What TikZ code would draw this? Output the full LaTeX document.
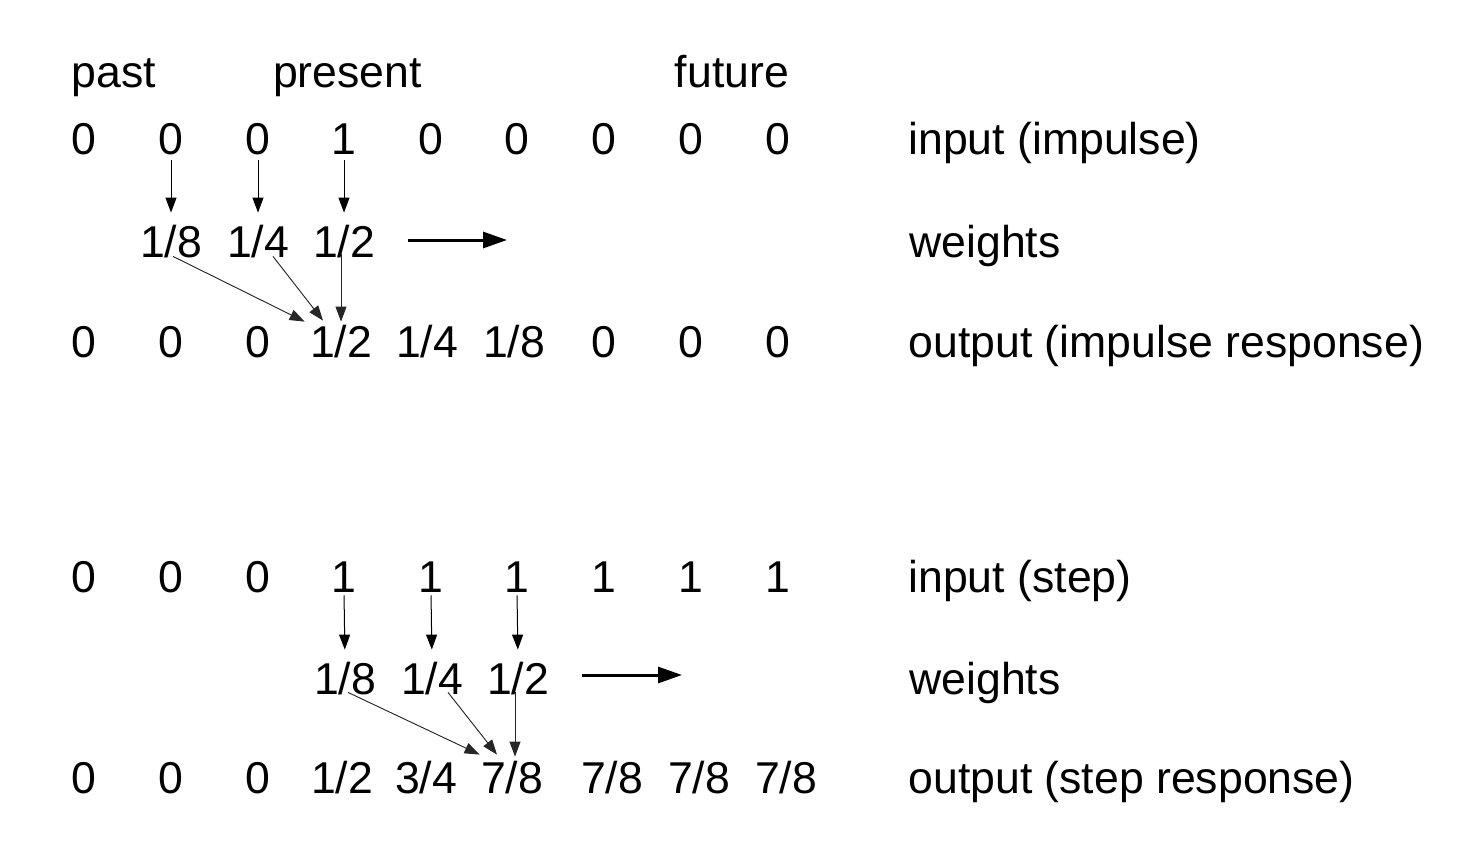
\documentclass[tikz,border=0pt]{standalone}
\usepackage{fontspec}
\setmainfont{Liberation Sans}
\usetikzlibrary{arrows.meta}
\begin{document}
\begin{tikzpicture}[x=0.5pt,y=-0.5pt,
  txt/.style={font=\fontsize{22.3}{26}\selectfont, inner sep=0pt, anchor=base},
  num/.style={txt, text height=16pt, text depth=0pt},
  lbl/.style={txt, anchor=base west},
  thinarrow/.style={-{Triangle[length=7.5pt,width=5.5pt]}, line width=0.5pt},
  diagarrow/.style={-{Triangle[length=7.5pt,width=5.5pt]}, line width=0.45pt, draw=black!85, fill=black},
  bigarrow/.style={-{Triangle[length=12pt,width=8pt]}, line width=1.5pt}]
\useasboundingbox (0,0) rectangle (1476,856);

% headers
\node[txt] (past) at (114,88) {past};
\node[txt] (present) at (347.5,88) {present};
\node[txt] (future) at (732,88) {future};

% ---------- impulse ----------
\foreach \x/\t [count=\i] in {84/0,171/0,258/0,344/1,431/0,517/0,604/0,691/0,778/0}
  \node[num] (a\i) at (\x,155) {\t};
\node[num] (w1) at (171,257) {1/8};
\node[num] (w2) at (258,257) {1/4};
\node[num] (w3) at (344,257) {1/2};
\foreach \x/\t [count=\i] in {84/0,171/0,258/0,341/1\slash 2,427/1\slash 4,514/1\slash 8,604/0,691/0,778/0}
  \node[num] (o\i) at (\x,357) {\t};

\node[lbl] (la) at (908,155) {input (impulse)};
\node[lbl] (lw) at (909,257) {weights};
\node[lbl] (lo) at (908,357) {output (impulse response)};

\draw[thinarrow, shorten <=2.5pt, shorten >=6pt] (a2.south) -- (w1.north);
\draw[thinarrow, shorten <=2.5pt, shorten >=6pt] (a3.south) -- (w2.north);
\draw[thinarrow, shorten <=2.5pt, shorten >=6pt] (a4.south) -- (w3.north);

\draw[diagarrow] ([shift={(2,-1)}]w1.south) -- ([shift={(-5,-3)}]o4.north west);
\draw[diagarrow] ([shift={(15,-1)}]w2.south) -- ([shift={(-18,-4)}]o4.north);
\draw[diagarrow] ([shift={(0,-3)}]o4.north |- w3.south) -- ([shift={(0,-3)}]o4.north);

\coordinate (ra1) at (408,240);
\coordinate (ra2) at (507,240);
\draw[bigarrow] (ra1) -- (ra2);

% ---------- step ----------
\foreach \x/\t [count=\i] in {84/0,171/0,258/0,344/1,431/1,517/1,604/1,691/1,778/1}
  \node[num] (b\i) at (\x,592) {\t};
\node[num] (v1) at (345,694) {1/8};
\node[num] (v2) at (432,694) {1/4};
\node[num] (v3) at (518,694) {1/2};
\foreach \x/\t [count=\i] in {84/0,171/0,258/0,342/1\slash 2,426/3\slash 4,512/7\slash 8,612/7\slash 8,699/7\slash 8,786/7\slash 8}
  \node[num] (p\i) at (\x,793) {\t};

\node[lbl] (lb) at (908,592) {input (step)};
\node[lbl] (lv) at (909,694) {weights};
\node[lbl] (lp) at (908,793) {output (step response)};

\draw[thinarrow, shorten <=1.5pt, shorten >=6pt] (b4.south) -- (v1.north);
\draw[thinarrow, shorten <=1.5pt, shorten >=6pt] (b5.south) -- (v2.north);
\draw[thinarrow, shorten <=1.5pt, shorten >=6pt] (b6.south) -- (v3.north);

\draw[diagarrow] ([shift={(3,-2)}]v1.south) -- ([shift={(-1,-6)}]p6.north west);
\draw[diagarrow] ([shift={(16,-2)}]v2.south) -- ([shift={(-15,-6)}]p6.north);
\draw[diagarrow] ([shift={(3,-2)}]p6.north |- v3.south) -- ([shift={(3,-4)}]p6.north);

\coordinate (rb1) at (582,675);
\coordinate (rb2) at (682,675);
\draw[bigarrow] (rb1) -- (rb2);
\end{tikzpicture}
\end{document}
